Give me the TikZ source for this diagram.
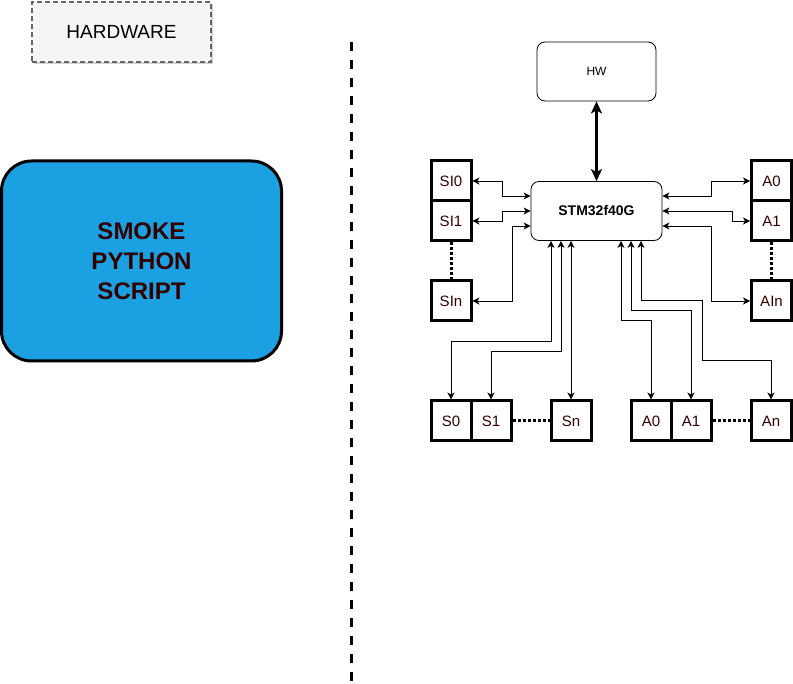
\documentclass[tikz,border=0pt]{standalone}
\usepackage{fontspec}
\setmainfont{Liberation Sans}
\usetikzlibrary{arrows.meta,shadows}

\definecolor{smokeblue}{HTML}{1BA1E2}
\definecolor{labelred}{HTML}{330000}
\definecolor{hwgray}{HTML}{F5F5F5}

\tikzset{
  port/.style={draw,line width=3pt,minimum width=40pt,minimum height=40pt,
    inner sep=0pt,text=labelred,font=\fontsize{15}{17}\selectfont},
  board/.style={draw,rounded corners=8pt,inner sep=0pt,line width=0.8pt},
  link/.style={line width=0.8pt,{Stealth[length=7pt,width=7pt,inset=2pt]}-{Stealth[length=7pt,width=7pt,inset=2pt]}},
  dotlink/.style={line width=3pt,dash pattern=on 3pt off 2pt}
}

\begin{document}
\begin{tikzpicture}[x=1pt,y=-1pt]
\useasboundingbox (0,0) rectangle (793,684);

% left side
\node[draw=black!60,dash pattern=on 5pt off 3pt,line width=1.3pt,fill=hwgray,minimum width=179pt,minimum height=60pt,
  drop shadow={shadow xshift=2pt,shadow yshift=-2pt,fill=black!35},
  font=\fontsize{19}{22}\selectfont] (hardware) at (121.5,32) {HARDWARE};

\node[draw,line width=3pt,fill=smokeblue,rounded corners=30pt,minimum width=280pt,minimum height=200pt,
  text=labelred,align=center,font=\bfseries\fontsize{24}{30}\selectfont] (smoke) at (141.5,261)
  {SMOKE\\PYTHON\\SCRIPT};

% separator
\coordinate (septop) at (351,42);
\coordinate (sepbot) at (351,684);
\draw[line width=3pt,dash pattern=on 9pt off 9pt] (septop) -- (sepbot);

% right side
\node[board,minimum width=119pt,minimum height=59pt,font=\fontsize{12}{14}\selectfont] (hw) at (596.5,71.5) {HW};
\node[board,minimum width=131pt,minimum height=59pt,font=\bfseries\fontsize{14}{16}\selectfont] (stm) at (596.5,211) {STM32f40G};

\node[port] (si0) at (451,181) {SI0};
\node[port] (si1) at (451,221) {SI1};
\node[port] (sin) at (451,301) {SIn};

\node[port] (a0) at (771.5,181) {A0};
\node[port] (a1) at (771.5,221) {A1};
\node[port] (ain) at (771.5,301) {AIn};

\node[port] (s0) at (451,421) {S0};
\node[port] (s1) at (491,421) {S1};
\node[port] (sn) at (571,421) {Sn};
\node[port] (ba0) at (651,421) {A0};
\node[port] (ba1) at (691,421) {A1};
\node[port] (ban) at (771,421) {An};

\draw[line width=3pt,{Stealth[length=12pt,width=11pt,inset=3pt]}-{Stealth[length=12pt,width=11pt,inset=3pt]}] (hw.south) -- (stm.north);

\draw[dotlink] (si1.south) -- (sin.north);
\draw[dotlink] (a1.south) -- (ain.north);
\draw[dotlink] (s1.east) -- (sn.west);
\draw[dotlink] (ba1.east) -- (ban.west);

\draw[link] (si0.east) -- ++(30,0) |- ([yshift=15pt]stm.west);
\draw[link] (si1.east) -- ++(30,0) |- (stm.west);
\draw[link] (sin.east) -- ++(40,0) |- ([yshift=-15pt]stm.west);

\draw[link] ([yshift=15pt]stm.east) -- ++(49,0) |- (a0.west);
\draw[link] (stm.east) -- ++(70,0) |- (a1.west);
\draw[link] ([yshift=-15pt]stm.east) -- ++(49,0) |- (ain.west);

\draw[link] ([xshift=-45.5pt]stm.south) -- ++(0,100.5) -| (s0.north);
\draw[link] ([xshift=-35.5pt]stm.south) -- ++(0,110.5) -| (s1.north);
\draw[link] ([xshift=-25.5pt]stm.south) -- (sn.north);

\draw[link] ([xshift=24.5pt]stm.south) -- ++(0,79.5) -| (ba0.north);
\draw[link] ([xshift=34.5pt]stm.south) -- ++(0,69.5) -| (ba1.north);
\draw[link] ([xshift=44.5pt]stm.south) -- ++(0,60) -- ++(61,0) -- ++(0,60) -| (ban.north);

\end{tikzpicture}
\end{document}
